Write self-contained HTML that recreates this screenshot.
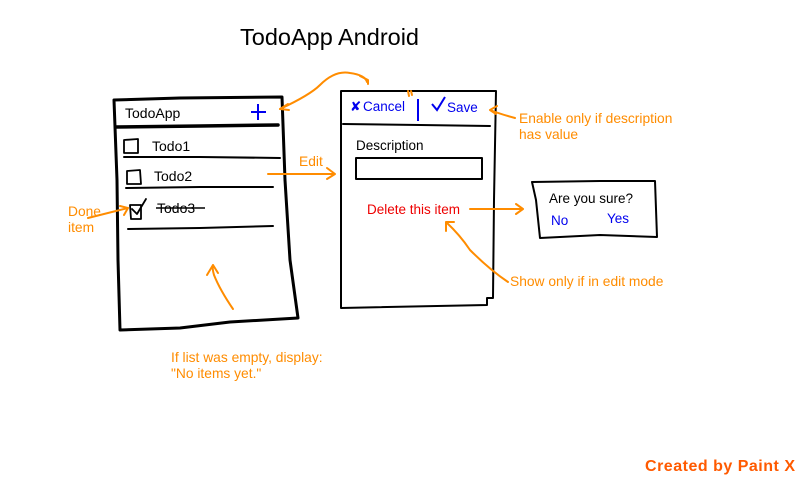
<!DOCTYPE html>
<html><head><meta charset="utf-8"><style>
html,body{margin:0;padding:0;background:#fff;}
svg{display:block;font-family:"Liberation Sans",sans-serif;}
</style></head><body>
<svg width="800" height="480" viewBox="0 0 800 480" xmlns="http://www.w3.org/2000/svg">
<text x="240" y="45" font-size="23.5" fill="#000">TodoApp Android</text>
<g fill="none" stroke="#000" stroke-linecap="round" stroke-linejoin="round">
<path d="M114,100 L180,98 L282,97 L285,180 L290,260 L298,318 L230,322 L180,328 L120,330 L118,260 L117,180 Z" stroke-width="3"/>
<path d="M116,127 L200,126 L278,125" stroke-width="3.5"/>
<path d="M124,157 L200,157 L280,158" stroke-width="2"/>
<path d="M126,188 L200,187 L273,187" stroke-width="2"/>
<path d="M128,229 L200,228 L273,226" stroke-width="2"/>
<path d="M124,140 L138,139 L138,153 L124,153 Z" stroke-width="1.8"/>
<path d="M127,171 L140,170 L141,184 L127,184 Z" stroke-width="1.8"/>
<path d="M130,205 L141,205 L141,219 L131,219 Z" stroke-width="1.8"/>
<path d="M132,209 L137,214 L146,199" stroke-width="1.8"/>
<path d="M341,91 L420,91 L496,91 L494,200 L493,298 L487,298 L487,305 L341,308 L341,200 Z" stroke-width="2"/>
<path d="M343,124 L420,125 L490,126" stroke-width="2"/>
<rect x="356" y="158" width="126" height="21" stroke-width="2"/>
<path d="M532,182 L600,181 L655,181 L657,237 L600,235 L540,238 L536,200 Z" stroke-width="2"/>
</g>
<text x="125" y="118" font-size="14">TodoApp</text>
<text x="152" y="151" font-size="14">Todo1</text>
<text x="154" y="181" font-size="14">Todo2</text>
<text x="157" y="213" font-size="14">Todo3</text>
<path d="M156,208 L205,208" stroke="#000" stroke-width="1.5"/>
<path d="M251,112 L266,112 M258,104 L258,120" stroke="#0000ee" stroke-width="2"/>
<text x="350" y="111" font-size="13.5" fill="#0000ee">✘</text>
<text x="363" y="111" font-size="13.5" fill="#0000ee">Cancel</text>
<path d="M418,99 L418,121" stroke="#0000ee" stroke-width="2"/>
<path d="M432,104 L437,110 L445,97" stroke="#0000ee" stroke-width="2" fill="none"/>
<text x="447" y="112" font-size="13.5" fill="#0000ee">Save</text>
<text x="356" y="150" font-size="13.5">Description</text>
<text x="367" y="214" font-size="13.5" fill="#ee0000">Delete this item</text>
<text x="549" y="203" font-size="13.5">Are you sure?</text>
<text x="551" y="225" font-size="13.5" fill="#0000ee">No</text>
<text x="607" y="223" font-size="13.5" fill="#0000ee">Yes</text>
<g fill="none" stroke="#ff8c00" stroke-width="2" stroke-linecap="round" stroke-linejoin="round">
<path d="M280,109 Q310,95 320,85 Q335,70 350,73 Q365,75 367,82"/>
<path d="M360,76 L368,80 L368,84"/>
<path d="M280,109 L288,104 M280,109 L289,110"/>
<path d="M268,174 L335,174 M327,168 L335,174 L327,179"/>
<path d="M88,218 L128,208 M120,206 L128,208 L124,215"/>
<path d="M233,309 Q220,290 214,275 Q212,268 213,265 M207,275 L213,265 L218,273"/>
<path d="M515,118 Q500,114 490,110 M497,106 L490,110 L496,114"/>
<path d="M470,209 L522,209 M516,204 L523,209 L516,214"/>
<path d="M508,282 Q490,270 470,250 Q460,235 446,222 M446,231 L446,222 L454,222"/>
<path d="M408,91 L409,96 M411,91 L412,95"/>
</g>
<g fill="#ff8c00" font-size="13.8">
<text x="299" y="166">Edit</text>
<text x="519" y="123">Enable only if description</text>
<text x="519" y="139">has value</text>
<text x="68" y="216">Done</text>
<text x="68" y="232">item</text>
<text x="510" y="286">Show only if in edit mode</text>
<text x="171" y="362">If list was empty, display:</text>
<text x="171" y="378">"No items yet."</text>
</g>
<text x="645" y="471" font-size="16" font-weight="bold" fill="#ff5a00" textLength="150" lengthAdjust="spacing">Created by Paint X</text>
</svg>
</body></html>
